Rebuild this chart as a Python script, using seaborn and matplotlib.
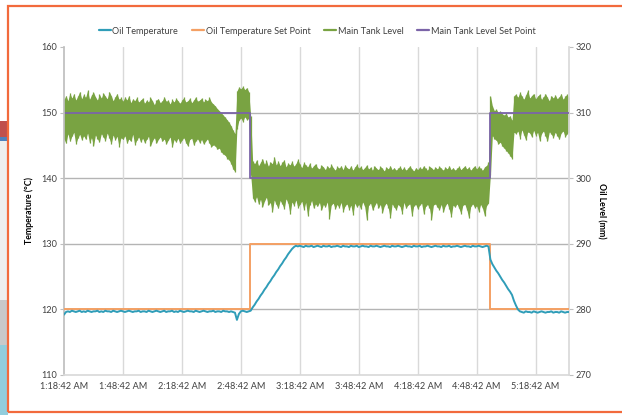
import numpy as np
import pandas as pd
import seaborn as sns
from matplotlib import pyplot as plt
from matplotlib.lines import Line2D
from matplotlib.patches import Rectangle

# minutes after 1:18:42 AM, one reading per minute
oil_temp = [
    119.2, 119.6, 119.7, 119.6, 119.8, 119.7, 119.6, 119.7, 119.8, 119.6,
    119.7, 119.6, 119.8, 119.7, 119.6, 119.7, 119.7, 119.8, 119.6, 119.7,
    119.6, 119.8, 119.7, 119.7, 119.6, 119.8, 119.7, 119.6, 119.7, 119.8,
    119.7, 119.6, 119.7, 119.8, 119.7, 119.6, 119.7, 119.7, 119.8, 119.6,
    119.7, 119.7, 119.6, 119.8, 119.7, 119.6, 119.7, 119.8, 119.7, 119.6,
    119.7, 119.8, 119.6, 119.7, 119.7, 119.8, 119.6, 119.7, 119.6, 119.8,
    119.7, 119.6, 119.7, 119.8, 119.7, 119.7, 119.6, 119.8, 119.7, 119.6,
    119.7, 119.8, 119.7, 119.6, 119.7, 119.7, 119.8, 119.6, 119.7, 119.7,
    119.6, 119.8, 119.7, 119.7, 119.6, 119.7, 119.6, 119.5, 118.4, 119.3,
    119.7, 119.8, 119.7, 119.6, 119.7, 119.8, 120.3, 120.7, 121.2, 121.6,
    122.1, 122.5, 123.0, 123.4, 123.9, 124.3, 124.8, 125.2, 125.7, 126.1,
    126.6, 127.0, 127.5, 127.9, 128.4, 128.8, 129.2, 129.5, 129.7, 129.6,
    129.7, 129.6, 129.5, 129.7, 129.6, 129.6, 129.7, 129.5, 129.6, 129.7,
    129.6, 129.5, 129.7, 129.6, 129.6, 129.7, 129.5, 129.6, 129.6, 129.7,
    129.6, 129.5, 129.7, 129.6, 129.6, 129.5, 129.7, 129.6, 129.6, 129.7,
    129.5, 129.6, 129.7, 129.6, 129.6, 129.5, 129.7, 129.6, 129.6, 129.7,
    129.6, 129.5, 129.6, 129.7, 129.6, 129.6, 129.5, 129.7, 129.6, 129.6,
    129.7, 129.6, 129.5, 129.6, 129.7, 129.6, 129.6, 129.5, 129.7, 129.6,
    129.6, 129.7, 129.5, 129.6, 129.6, 129.7, 129.6, 129.5, 129.6, 129.7,
    129.6, 129.6, 129.5, 129.7, 129.6, 129.6, 129.7, 129.5, 129.6, 129.6,
    129.7, 129.6, 129.5, 129.6, 129.7, 129.6, 129.6, 129.5, 129.7, 129.6,
    129.6, 129.7, 129.6, 129.5, 129.6, 129.7, 129.6, 127.6, 126.9, 126.4,
    125.9, 125.5, 125.0, 124.5, 124.1, 123.6, 123.1, 122.7, 122.2, 121.3,
    120.6, 120.0, 119.7, 119.6, 119.5, 119.7, 119.6, 119.6, 119.5, 119.7,
    119.6, 119.5, 119.6, 119.7, 119.6, 119.5, 119.6, 119.6, 119.7, 119.5,
    119.6, 119.6, 119.5, 119.7, 119.6, 119.5, 119.6, 119.6,
]

level_upper = [
    312.0, 312.6, 311.8, 313.0, 312.2, 312.9, 311.9, 312.5, 313.2, 312.1,
    312.8, 312.3, 313.4, 312.0, 312.7, 313.1, 312.4, 311.9, 312.8, 312.2,
    313.0, 312.5, 312.1, 313.2, 312.6, 311.8, 312.4, 312.9, 312.0, 312.3,
    311.7, 312.4, 311.9, 312.6, 311.5, 312.1, 311.8, 312.3, 311.6, 311.9,
    312.2, 311.4, 311.9, 311.6, 312.3, 311.8, 311.2, 311.9, 312.1, 311.5,
    311.8, 312.4, 311.7, 311.9, 311.3, 312.0, 311.6, 312.2, 311.8, 311.4,
    311.9, 312.3, 311.6, 311.8, 312.2, 311.5, 311.9, 312.4, 311.7, 311.9,
    312.2, 311.6, 312.0, 311.8, 312.3, 311.6, 311.3, 311.0, 310.6, 310.3,
    310.0, 309.6, 309.3, 308.9, 308.5, 308.0, 307.3, 306.8, 313.3, 313.9,
    313.6, 314.0, 313.5, 313.8, 313.2, 309.5, 302.6, 302.2, 302.8, 301.9,
    302.4, 303.0, 302.1, 302.7, 301.8, 302.5, 302.2, 303.3, 302.0, 302.6,
    301.9, 302.4, 302.8, 301.7, 302.3, 302.0, 302.6, 301.8, 302.2, 302.9,
    302.1, 301.6, 302.4, 302.0, 301.7, 302.3, 301.5, 301.9, 302.2, 301.6,
    301.4, 302.0, 301.7, 301.3, 301.9, 301.5, 302.1, 301.6, 301.2, 301.8,
    301.5, 301.9, 301.3, 302.0, 301.6, 301.4, 301.9, 301.2, 301.7, 302.1,
    301.5, 301.8, 301.3, 301.6, 302.0, 301.4, 301.7, 301.2, 301.9, 301.5,
    301.3, 301.8, 301.5, 301.1, 301.7, 301.4, 301.9, 301.3, 301.6, 301.2,
    301.5, 301.8, 301.3, 301.7, 301.2, 301.5, 301.9, 301.4, 301.1, 301.6,
    301.3, 301.7, 301.4, 301.9, 301.5, 301.2, 301.8, 301.6, 301.3, 301.7,
    301.4, 301.8, 301.5, 301.2, 301.7, 301.4, 301.9, 301.3, 301.6, 301.2,
    301.5, 301.8, 301.3, 301.6, 301.9, 301.4, 301.7, 301.2, 301.6, 301.9,
    301.4, 301.8, 301.5, 301.2, 301.7, 301.9, 302.5, 312.6, 311.0, 310.3,
    310.5, 310.0, 310.2, 309.8, 309.6, 309.9, 309.3, 309.5, 308.8, 312.6,
    312.8, 312.3, 313.1, 312.5, 312.0, 312.7, 313.4, 312.2, 312.6, 312.9,
    312.1, 312.5, 312.8, 312.0, 312.4, 312.9, 312.3, 311.8, 312.6, 312.2,
    312.7, 312.1, 312.4, 312.9, 312.0, 312.5, 312.8, 312.3,
]

level_lower = [
    306.0, 305.3, 306.8, 305.6, 306.4, 307.0, 305.2, 306.1, 306.7, 305.8,
    306.5, 305.9, 306.9, 305.4, 306.2, 304.9, 306.6, 306.0, 305.5, 306.8,
    306.3, 305.7, 306.9, 306.1, 305.2, 306.6, 305.8, 306.4, 304.8, 306.2,
    305.9, 306.5, 305.3, 306.0, 305.6, 306.7, 305.1, 305.8, 306.3, 305.5,
    306.1, 305.4, 305.9, 306.4, 304.9, 305.7, 306.2, 305.3, 305.9, 306.3,
    305.6, 306.0, 305.2, 305.8, 306.3, 304.7, 305.9, 305.5, 306.1, 305.3,
    305.8, 306.2, 305.4, 304.9, 305.9, 306.1, 305.0, 305.7, 306.0, 305.4,
    305.9, 305.2, 305.6, 306.0, 305.3, 304.8, 305.1, 304.9, 304.4, 304.6,
    304.0, 303.7, 303.5, 303.0, 302.8, 302.2, 301.4, 301.0, 307.5, 308.8,
    309.2, 308.6, 309.4, 308.9, 309.1, 300.5, 297.0, 296.4, 297.2, 296.0,
    296.8, 295.6, 296.5, 297.1, 295.9, 296.3, 294.8, 296.7, 296.0, 295.4,
    296.6, 296.1, 295.3, 296.9, 296.2, 294.5, 296.4, 295.8, 296.7, 295.5,
    296.0, 296.5, 295.2, 296.3, 294.2, 295.9, 296.6, 295.4, 296.1, 295.7,
    296.3, 295.1, 296.0, 295.6, 296.4, 293.8, 295.9, 296.2, 295.3, 296.0,
    295.5, 296.3, 294.9, 295.8, 296.1, 295.2, 295.9, 294.4, 296.2, 295.6,
    296.0, 295.3, 296.4, 295.7, 293.6, 295.9, 296.2, 295.1, 295.8, 296.3,
    295.4, 296.0, 294.7, 295.8, 296.2, 295.5, 293.9, 296.1, 295.6, 295.2,
    296.0, 295.7, 294.6, 296.3, 295.4, 295.9, 296.1, 294.2, 295.8, 296.0,
    295.3, 295.9, 296.2, 294.5, 295.7, 296.0, 295.4, 293.7, 295.9, 296.1,
    295.6, 295.2, 296.0, 294.8, 295.8, 296.2, 295.3, 294.1, 295.9, 295.6,
    296.1, 295.4, 294.6, 295.9, 296.0, 295.2, 293.9, 295.7, 296.1, 295.5,
    295.8, 294.9, 296.0, 295.4, 294.3, 295.8, 296.2, 300.5, 306.5, 306.0,
    305.8, 305.2, 305.5, 304.9, 304.6, 304.2, 303.9, 303.4, 303.0, 307.0,
    306.8, 307.2, 306.0, 307.4, 306.6, 305.8, 307.1, 306.9, 306.3, 307.3,
    306.5, 307.0, 305.7, 306.8, 307.2, 306.4, 305.6, 307.1, 306.7, 306.2,
    307.0, 306.5, 305.9, 306.9, 307.2, 306.3, 306.8, 307.0,
]

# set point changes (minutes, value held until next change)
temp_sp_time = [0, 94.6, 216.6, 257]
temp_sp_value = [120, 130, 120, 120]
level_sp_time = [0, 94.5, 216.6, 257]
level_sp_value = [310, 300, 310, 310]

tick_minutes = [0, 30, 60, 90, 120, 150, 180, 210, 240]
tick_labels = ['1:18:42 AM', '1:48:42 AM', '2:18:42 AM', '2:48:42 AM', '3:18:42 AM',
               '3:48:42 AM', '4:18:42 AM', '4:48:42 AM', '5:18:42 AM']
series_names = ['Oil Temperature', 'Oil Temperature Set Point', 'Main Tank Level', 'Main Tank Level Set Point']
series_colors = ['#2f9db8', '#f4a064', '#79a342', '#7b64a8']

sns.set_theme(style='white')
plt.rcParams['font.family'] = ['Lato', 'DejaVu Sans']
text_color = '#404040'

minutes = np.arange(len(oil_temp))
temp_df = pd.DataFrame({'minute': minutes, 'temp': oil_temp})
level_df = pd.DataFrame({'minute': minutes, 'upper': level_upper, 'lower': level_lower})

fig = plt.figure(figsize=(6.22, 4.15), dpi=100)

# bits of the screenshot around the chart
for y0, h, c in [(0.0, 0.169, '#92cddc'), (0.169, 0.108, '#c9c9c9'), (0.277, 0.383, '#eeeeee'),
                 (0.660, 0.010, '#4f81bd'), (0.670, 0.039, '#c0504d')]:
    fig.add_artist(Rectangle((0, y0), 0.013, h, transform=fig.transFigure, color=c, lw=0))
fig.add_artist(Rectangle((0.013, 0.007), 1.2, 0.979, transform=fig.transFigure,
                         fill=False, edgecolor='#f26a3c', lw=1.6))

ax = fig.add_axes([0.1029, 0.0964, 0.8119, 0.7904])
ax2 = ax.twinx()

# level readings: solid spread plus one short stroke per minute for the spiky edge
ax2.fill_between(level_df['minute'], level_df['lower'], level_df['upper'],
                 color=series_colors[2], lw=0, zorder=2)
ax2.vlines(level_df['minute'], level_df['lower'], level_df['upper'],
           color=series_colors[2], lw=0.9, zorder=2)
sns.lineplot(x=level_sp_time, y=level_sp_value, ax=ax2, drawstyle='steps-post',
             color=series_colors[3], lw=1.3, zorder=3)
ax2.set_ylim(270, 320)
ax2.set_yticks([270, 280, 290, 300, 310, 320])

sns.lineplot(x=temp_sp_time, y=temp_sp_value, ax=ax, drawstyle='steps-post',
             color=series_colors[1], lw=1.4, zorder=3)
sns.lineplot(data=temp_df, x='minute', y='temp', ax=ax, color=series_colors[0], lw=1.4, zorder=4)

# temperature lines must sit above the level band
ax.set_zorder(ax2.get_zorder() + 1)
ax.patch.set_visible(False)

ax.set_xlim(0, 257)
ax.set_ylim(110, 160)
ax.set_yticks([110, 120, 130, 140, 150, 160])
ax.set_xticks(tick_minutes)
ax.set_xticklabels(tick_labels)

for y in [120, 130, 140, 150]:
    ax2.axhline(y + 160, color='#b4b4b4', lw=1.0, zorder=1)
for x in tick_minutes[1:]:
    ax2.axvline(x, color='#d9d9d9', lw=1.0, zorder=1)

for a in (ax, ax2):
    for s in a.spines.values():
        s.set_visible(False)
    a.tick_params(labelsize=6.6, colors=text_color, length=3, width=0.8, pad=2)
    a.tick_params(axis='y', color='#bfbfbf')
    a.set_xlabel('')
ax.spines['left'].set_visible(True)
ax.spines['left'].set_color('#bfbfbf')
ax.spines['bottom'].set_visible(True)
ax.spines['bottom'].set_color('#d9d9d9')
ax2.spines['right'].set_visible(True)
ax2.spines['right'].set_color('#d9d9d9')
ax.tick_params(axis='x', color='#d9d9d9')

ax.set_ylabel('Temperature (°C)', fontsize=6.3, fontweight='bold', color='black', labelpad=5)
ax2.set_ylabel('Oil Level (mm)', fontsize=6.3, fontweight='bold', color='black', rotation=270, labelpad=10)

handles = [Line2D([0], [0], color=c, lw=1.6) for c in series_colors]
fig.legend(handles, series_names, loc='center', bbox_to_anchor=(0.51, 0.925), ncol=4, frameon=False,
           fontsize=6.6, handlelength=1.3, handletextpad=0.2, columnspacing=1.5, labelcolor=text_color)

plt.savefig('out.png', dpi=100)
